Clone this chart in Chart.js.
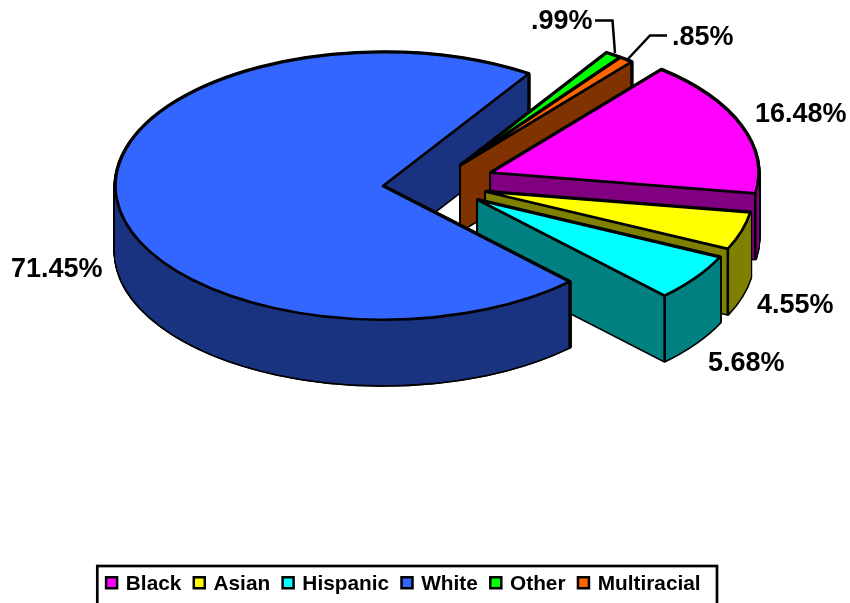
<!DOCTYPE html>
<html><head><meta charset="utf-8">
<style>html,body{margin:0;padding:0;background:#fff;overflow:hidden}canvas{display:block}</style>
<script src="https://cdn.jsdelivr.net/npm/chart.js@4/dist/chart.umd.min.js"></script>
</head><body><canvas id="c" width="850" height="603"></canvas>
<script>
const categories = ['Black','Asian','Hispanic','White','Other','Multiracial'];
const shares = [16.48,4.55,5.68,71.45,0.99,0.85];
const topColors = ['#FF00FF','#FFFF00','#00FFFF','#3366FF','#00FF00','#FF6600'];
const wallColors = ['#800080','#808000','#008080','#1A3380','#008000','#803300'];
const shiftX = [108,103,95,0,78,78];
const shiftY = [-13.3,5.7,14,0,-21,-21];
const labelX = [755,757,708,11,531,672];
const labelY = [122,313,371,277,29,45];
const leaders = [[[595,20.5],[612.5,20.5],[615,53]],[[667,35.5],[650,35.5],[627,60]]];
const CX=383, CY=186, SQUASH=0.5, DEPTH=65, WHITE=3, FRONT_END=Math.PI;
const FONT='"Liberation Sans", Arial, sans-serif';
const fmt=v=>v.toFixed(2).replace(/^0/,'')+'%';
const paintOrder=[3,4,5,0,1,2];

function flatStroke(ctx){
  const base=ctx.stroke;
  ctx.stroke=function(){ ctx.save(); ctx.setTransform(1,0,0,1,0,0); base.call(ctx); ctx.restore(); };
  return base;
}
const pie3d={
  id:'pie3d',
  afterLayout(chart){ chart.legend.top=552.5; },
  beforeDatasetDraw(chart,args){
    const ctx=chart.ctx, arcs=args.meta.data;
    const layer=document.createElement('canvas');
    layer.width=chart.width; layer.height=chart.height;
    const lc=layer.getContext('2d');
    const baseStroke=flatStroke(ctx); flatStroke(lc);
    const place=(c,arc,i,d)=>c.setTransform(1,0,0,SQUASH,CX+shiftX[i]-arc.x,CY+shiftY[i]+d-SQUASH*arc.y);
    const drawAs=(c,arc,bg,bc,bw)=>{ const o=arc.options; arc.options={...o,backgroundColor:bg,borderColor:bc,borderWidth:bw,borderJoinStyle:'round'}; arc.draw(c); arc.options=o; };
    const body=(arc,i)=>{
      lc.setTransform(1,0,0,1,0,0); lc.clearRect(0,0,layer.width,layer.height);
      lc.globalCompositeOperation='source-over';
      for(let d=DEPTH;d>=0;d-=0.25){ place(lc,arc,i,d); drawAs(lc,arc,wallColors[i],wallColors[i],0.5); }
      // even out rounding left by the many overlapping layers
      lc.setTransform(1,0,0,1,0,0);
      lc.globalCompositeOperation='source-atop';
      lc.fillStyle=wallColors[i]; lc.fillRect(0,0,layer.width,layer.height);
      lc.globalCompositeOperation='destination-over';
      for(let d=DEPTH;d>=0;d--){ place(lc,arc,i,d); drawAs(lc,arc,'#000','#000',4); }
      ctx.setTransform(1,0,0,1,0,0); ctx.drawImage(layer,0,0);
    };
    const endLine=(arc,i)=>{
      ctx.setTransform(1,0,0,1,0,0);
      const x=CX+shiftX[i]+arc.outerRadius*Math.cos(arc.endAngle);
      const y=CY+shiftY[i]+SQUASH*arc.outerRadius*Math.sin(arc.endAngle);
      ctx.beginPath(); ctx.moveTo(x,y); ctx.lineTo(x,y+DEPTH); ctx.lineWidth=2.6; ctx.strokeStyle='#000'; ctx.lineCap='round'; baseStroke.call(ctx);
    };
    const topFace=(arc,i)=>{ place(ctx,arc,i,0); drawAs(ctx,arc,topColors[i],'#000',2.7); };
    ctx.save();
    paintOrder.forEach(i=>{ const a=arcs[i]; body(a,i); endLine(a,i); if(i!==WHITE) topFace(a,i); });
    // front part of the big slice passes in front of the exploded slices
    const w=arcs[WHITE], keep=w.endAngle;
    w.endAngle=FRONT_END; body(w,WHITE); w.endAngle=keep;
    endLine({outerRadius:w.outerRadius,endAngle:w.startAngle},WHITE);
    topFace(w,WHITE);
    ctx.restore();
    delete ctx.stroke;
    return false;
  },
  afterDraw(chart){
    const ctx=chart.ctx, lg=chart.legend;
    ctx.save();
    ctx.setTransform(1,0,0,1,0,0);
    ctx.fillStyle='#000'; ctx.strokeStyle='#000'; ctx.lineWidth=2.5; ctx.lineJoin='miter'; ctx.lineCap='butt';
    ctx.font='bold 27px '+FONT; ctx.textBaseline='alphabetic'; ctx.textAlign='left';
    shares.forEach((v,i)=>ctx.fillText(fmt(v),labelX[i],labelY[i]));
    leaders.forEach(p=>{ ctx.beginPath(); p.forEach((q,k)=>k?ctx.lineTo(q[0],q[1]):ctx.moveTo(q[0],q[1])); ctx.stroke(); });
    ctx.lineWidth=2.7; ctx.strokeRect(97.3,566,619.7,60);
    ctx.lineWidth=2.5;
    lg.legendItems.forEach((it,i)=>{
      const x=lg.legendHitBoxes[i].left+10.4-21;
      ctx.fillStyle=it.fillStyle; ctx.fillRect(x+1.25,577.25,11,11); ctx.strokeRect(x+1.25,577.25,11,11);
    });
    ctx.restore();
  }
};
new Chart(document.getElementById('c'),{
  type:'pie',
  data:{labels:categories,datasets:[{data:shares,backgroundColor:topColors,borderColor:'#000',borderWidth:2}]},
  options:{
    responsive:false,animation:false,rotation:39.6,radius:267.5,
    layout:{padding:{right:34}},
    plugins:{tooltip:{enabled:false},
      legend:{position:'bottom',onClick:null,
        labels:{boxWidth:0,padding:21.8,color:'#000',font:{family:FONT,size:20.8,weight:'bold'}}}}
  },
  plugins:[pie3d]
});
</script></body></html>
